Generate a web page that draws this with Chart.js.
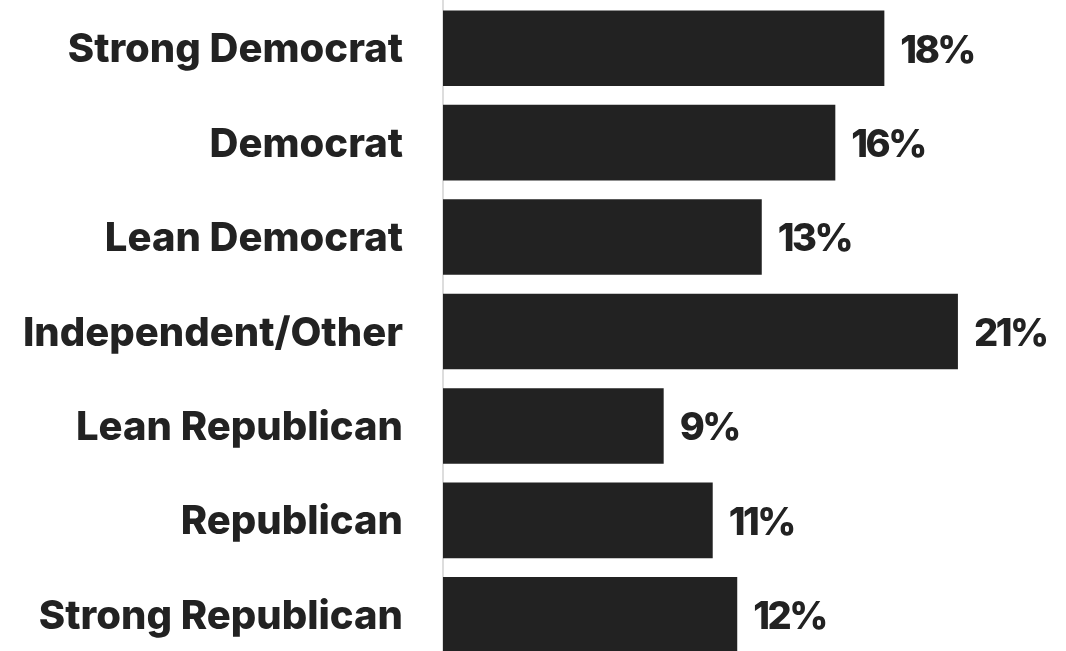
<!DOCTYPE html>
<html>
<head>
<meta charset="utf-8">
<script src="https://cdn.jsdelivr.net/npm/chart.js@4/dist/chart.umd.min.js"></script>
<style>
html,body{margin:0;padding:0;background:#fff;overflow:hidden;}
#wrap{position:relative;width:1066px;height:662px;}
</style>
</head>
<body>
<div id="wrap"><canvas id="c"></canvas></div>
<script>
const categories = ["Strong Democrat","Democrat","Lean Democrat","Independent/Other","Lean Republican","Republican","Strong Republican"];
const values = [18,16,13,21,9,11,12];
const valueLabels = ["18%","16%","13%","21%","9%","11%","12%"];

const FONT = "Inter, 'Open Sans', sans-serif";

const valuePlugin = {
  id: 'valueLabels',
  afterDatasetsDraw(chart) {
    const ctx = chart.ctx;
    const meta = chart.getDatasetMeta(0);
    ctx.save();
    ctx.font = "800 38px " + FONT;
    try { ctx.letterSpacing = "-2.5px"; } catch (e) {}
    ctx.fillStyle = "#222222";
    ctx.textAlign = "left";
    ctx.textBaseline = "middle";
    meta.data.forEach((bar, i) => {
      ctx.fillText(valueLabels[i], bar.x + 16, bar.y + 3);
    });
    ctx.restore();
  }
};

new Chart(document.getElementById('c'), {
  type: 'bar',
  data: {
    labels: categories,
    datasets: [{
      data: values,
      backgroundColor: '#222222',
      borderWidth: 0,
      barPercentage: 0.8,
      categoryPercentage: 1.0
    }]
  },
  options: {
    indexAxis: 'y',
    responsive: true,
    maintainAspectRatio: false,
    animation: false,
    layout: { padding: { top: 1, right: 10, bottom: 0, left: 0 } },
    plugins: { legend: { display: false }, tooltip: { enabled: false } },
    scales: {
      x: { display: false, min: 0, max: 25 },
      y: {
        grid: { display: false, drawTicks: false },
        border: { display: true, color: '#dddddd', width: 2 },
        ticks: {
          color: '#222222',
          padding: 40,
          labelOffset: 2,
          font: { family: FONT, size: 40, weight: '800' }
        },
        afterFit(scale) {
          scale.width = 443;
          scale.paddingTop = 0;
          scale.paddingBottom = 0;
        }
      }
    }
  },
  plugins: [valuePlugin]
});
</script>
</body>
</html>
